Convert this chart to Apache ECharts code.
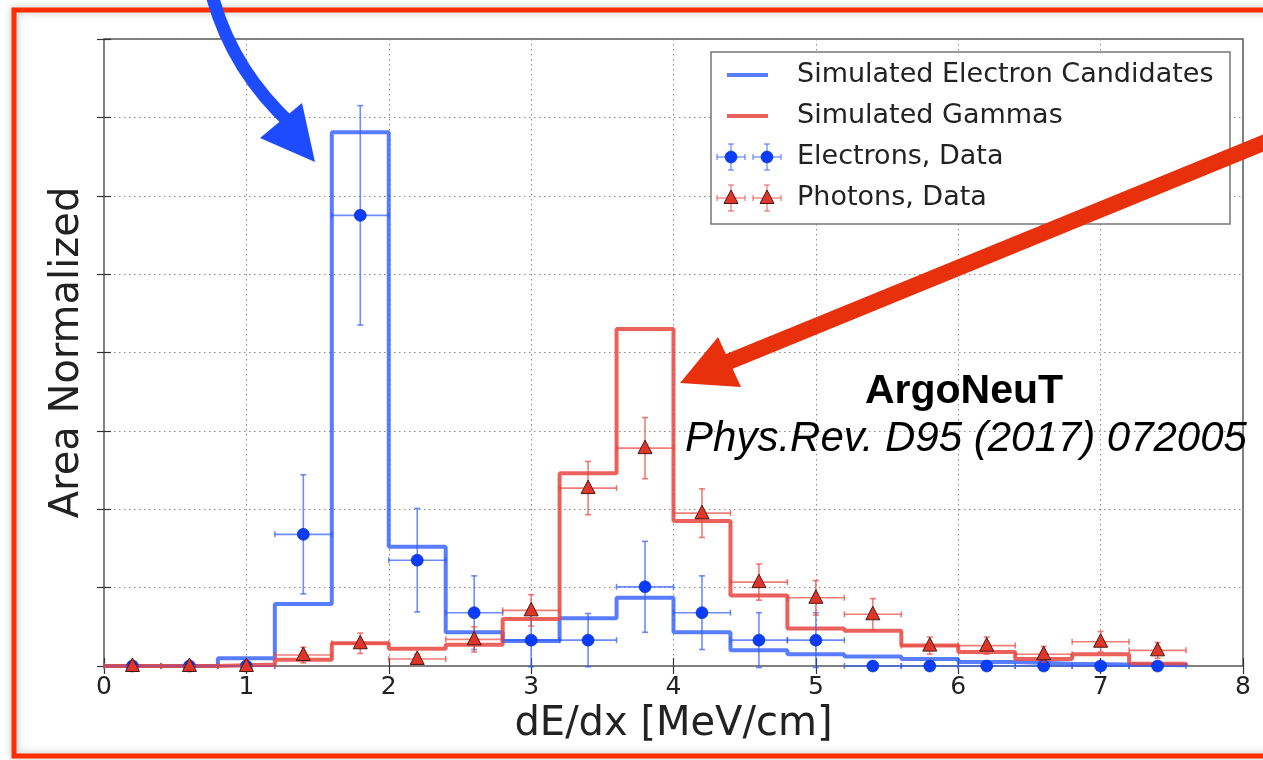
<!DOCTYPE html>
<html>
<head>
<meta charset="utf-8">
<title>dE/dx ArgoNeuT</title>
<script src="https://cdn.jsdelivr.net/npm/echarts@6/dist/echarts.min.js"></script>
<style>
  html, body { margin: 0; padding: 0; background: #ffffff; }
  #chart { width: 1263px; height: 760px; }
</style>
</head>
<body>
<div id="chart"></div>
<script>
// bin edges of the dE/dx histograms (MeV/cm)
const binEdges = [0, 0.4, 0.8, 1.2, 1.6, 2.0, 2.4, 2.8, 3.2, 3.6, 4.0, 4.4, 4.8, 5.2, 5.6, 6.0, 6.4, 6.8, 7.2, 7.6]
const binCenters = [0.2, 0.6, 1.0, 1.4, 1.8, 2.2, 2.6, 3.0, 3.4, 3.8, 4.2, 4.6, 5.0, 5.4, 5.8, 6.2, 6.6, 7.0, 7.4]
const binHalfWidth = 0.2

// simulated histograms (area normalized, arbitrary units)
const simElectrons = [0, 0, 0.10, 0.79, 6.81, 1.52, 0.43, 0.32, 0.61, 0.87, 0.43, 0.20, 0.15, 0.12, 0.09, 0.05, 0.03, 0.02, 0.01]
const simGammas = [0, 0, 0.02, 0.08, 0.29, 0.22, 0.27, 0.60, 2.46, 4.30, 1.85, 0.90, 0.48, 0.45, 0.26, 0.18, 0.09, 0.15, 0.03]

// data points with errors
const electronData = [0, 0, 0, 1.68, 5.75, 1.35, 0.68, 0.33, 0.33, 1.01, 0.68, 0.33, 0.33, 0, 0, 0, 0, 0, 0]
const electronErr = [0, 0, 0, 0.76, 1.40, 0.66, 0.47, 0.34, 0.34, 0.58, 0.47, 0.35, 0.35, 0, 0, 0, 0, 0, 0]
const photonData = [0, 0, 0, 0.14, 0.29, 0.09, 0.34, 0.71, 2.27, 2.78, 1.95, 1.07, 0.87, 0.66, 0.26, 0.26, 0.15, 0.31, 0.20]
const photonErr = [0, 0, 0, 0.10, 0.13, 0.06, 0.16, 0.20, 0.34, 0.39, 0.31, 0.23, 0.22, 0.20, 0.11, 0.11, 0.10, 0.13, 0.10]

const xTicks = [0, 1, 2, 3, 4, 5, 6, 7, 8]

const BLUE_LINE = '#2f5dff'
const RED_LINE = '#e8473f'
const BLUE_PT = '#0a3cff'
const RED_PT = '#e0352b'
const FONT = '"DejaVu Sans", sans-serif'

// histogram as a step outline: back to zero at both ends
function stepPoints(edges, values) {
  const pts = [[edges[0], 0]]
  values.forEach((v, i) => pts.push([edges[i], v]))
  pts.push([edges[edges.length - 1], values[values.length - 1]])
  pts.push([edges[edges.length - 1], 0])
  return pts
}

function errorSeries(name, values, errs, barColor, marker) {
  return {
    name: name,
    type: 'custom',
    silent: true,
    z: 5,
    encode: { x: 0, y: 1 },
    data: binCenters.map((x, i) => [x, values[i], binHalfWidth, errs[i]]),
    renderItem(params, api) {
      const x = api.value(0)
      const y = api.value(1)
      const xe = api.value(2)
      const ye = api.value(3)
      const p = api.coord([x, y])
      const l = api.coord([x - xe, y])
      const r = api.coord([x + xe, y])
      const t = api.coord([x, y + ye])
      const b = api.coord([x, y - ye])
      const bar = { stroke: barColor, lineWidth: 1.6, opacity: 0.7 }
      const cap = 3
      const children = [
        { type: 'line', shape: { x1: l[0], y1: l[1], x2: r[0], y2: r[1] }, style: bar },
        { type: 'line', shape: { x1: l[0], y1: l[1] - cap, x2: l[0], y2: l[1] + cap }, style: bar },
        { type: 'line', shape: { x1: r[0], y1: r[1] - cap, x2: r[0], y2: r[1] + cap }, style: bar }
      ]
      if (ye > 0) {
        children.push(
          { type: 'line', shape: { x1: t[0], y1: t[1], x2: b[0], y2: b[1] }, style: bar },
          { type: 'line', shape: { x1: t[0] - cap, y1: t[1], x2: t[0] + cap, y2: t[1] }, style: bar },
          { type: 'line', shape: { x1: b[0] - cap, y1: b[1], x2: b[0] + cap, y2: b[1] }, style: bar }
        )
      }
      children.push(marker(p[0], p[1]))
      return { type: 'group', children: children }
    }
  }
}

function circleMarker(cx, cy) {
  return { type: 'circle', shape: { cx: cx, cy: cy, r: 6 }, style: { fill: BLUE_PT, stroke: '#0028b0', lineWidth: 0.6 } }
}

function triangleMarker(cx, cy) {
  return {
    type: 'polygon',
    shape: { points: [[cx, cy - 8], [cx - 7, cy + 5.5], [cx + 7, cy + 5.5]] },
    style: { fill: RED_PT, stroke: '#4a1810', lineWidth: 1 }
  }
}

// legend drawn by hand so the handles match the matplotlib look
function legendErrorHandle(cx, cy, barColor, marker) {
  const bar = { stroke: barColor, lineWidth: 1.5, opacity: 0.6 }
  return [
    { type: 'line', shape: { x1: cx - 14, y1: cy, x2: cx + 14, y2: cy }, style: bar, z: 61 },
    { type: 'line', shape: { x1: cx, y1: cy - 13, x2: cx, y2: cy + 13 }, style: bar, z: 61 },
    { type: 'line', shape: { x1: cx - 3, y1: cy - 13, x2: cx + 3, y2: cy - 13 }, style: bar, z: 61 },
    { type: 'line', shape: { x1: cx - 3, y1: cy + 13, x2: cx + 3, y2: cy + 13 }, style: bar, z: 61 },
    { type: 'line', shape: { x1: cx - 14, y1: cy - 3, x2: cx - 14, y2: cy + 3 }, style: bar, z: 61 },
    { type: 'line', shape: { x1: cx + 14, y1: cy - 3, x2: cx + 14, y2: cy + 3 }, style: bar, z: 61 },
    Object.assign(marker(cx, cy), { z: 62 })
  ]
}

function legendText(y, text) {
  return {
    type: 'text', x: 797, y: y, z: 61,
    style: { text: text, fontFamily: FONT, fontSize: 27, fill: '#222', align: 'left', verticalAlign: 'middle' }
  }
}

const legendItems = [
  { type: 'rect', shape: { x: 711, y: 52, width: 519, height: 172 }, style: { fill: '#fff', stroke: '#777', lineWidth: 1.5 }, z: 60 },
  { type: 'line', shape: { x1: 727, y1: 75, x2: 768, y2: 75 }, style: { stroke: BLUE_LINE, lineWidth: 4, opacity: 0.8 }, z: 61 },
  { type: 'line', shape: { x1: 727, y1: 116, x2: 768, y2: 116 }, style: { stroke: RED_LINE, lineWidth: 4, opacity: 0.85 }, z: 61 },
  legendText(75, 'Simulated Electron Candidates'),
  legendText(116, 'Simulated Gammas'),
  legendText(157, 'Electrons, Data'),
  legendText(198, 'Photons, Data')
]
  .concat(legendErrorHandle(731, 157, BLUE_LINE, circleMarker))
  .concat(legendErrorHandle(767, 157, BLUE_LINE, circleMarker))
  .concat(legendErrorHandle(731, 198, RED_LINE, triangleMarker))
  .concat(legendErrorHandle(767, 198, RED_LINE, triangleMarker))

const annotations = [
  // slide frame
  {
    type: 'rect', z: 90,
    shape: { x: 14, y: 10, width: 1300, height: 746 },
    style: { fill: 'none', stroke: '#ff2d00', lineWidth: 5, shadowBlur: 8, shadowColor: 'rgba(0,0,0,0.25)' }
  },
  {
    type: 'text', x: 964, y: 392, z: 70,
    style: { text: 'ArgoNeuT', fontFamily: '"Liberation Sans", Arial, sans-serif', fontWeight: 'bold', fontSize: 41, fill: '#000', align: 'center', verticalAlign: 'middle' }
  },
  {
    type: 'text', x: 966, y: 439, z: 70,
    style: { text: 'Phys.Rev. D95 (2017) 072005', fontFamily: '"Liberation Sans", Arial, sans-serif', fontStyle: 'italic', fontSize: 42, fill: '#000', align: 'center', verticalAlign: 'middle' }
  },
  // blue arrow
  {
    type: 'bezierCurve', z: 95,
    shape: { x1: 212, y1: -5, cpx1: 232, cpy1: 70, x2: 292, y2: 125 },
    style: { fill: 'none', stroke: '#1f4bff', lineWidth: 13 }
  },
  {
    type: 'polygon', z: 95,
    shape: { points: [[302, 103], [260, 138], [315, 162]] },
    style: { fill: '#1f4bff' }
  },
  // red arrow
  {
    type: 'line', z: 95,
    shape: { x1: 1290, y1: 132, x2: 728, y2: 362 },
    style: { stroke: '#e8300c', lineWidth: 16 }
  },
  {
    type: 'polygon', z: 95,
    shape: { points: [[680, 383], [718, 337], [741, 387]] },
    style: { fill: '#e8300c' }
  }
]

const chart = echarts.init(document.getElementById('chart'))

const dotted = { color: '#888', width: 1, type: [1.5, 3.5] }
const tickStyle = { color: '#333', width: 1.2 }

chart.setOption({
  animation: false,
  backgroundColor: '#fff',
  grid: {
    left: 104, top: 39, width: 1139, height: 627,
    show: true, borderColor: '#555', borderWidth: 1.5, backgroundColor: 'transparent'
  },
  xAxis: [
    {
      type: 'value', min: 0, max: 8, interval: 1, position: 'bottom',
      axisLine: { show: false },
      axisTick: { inside: true, length: 8, lineStyle: tickStyle },
      axisLabel: {
        fontFamily: FONT, fontSize: 25, color: '#222', margin: 9,
        formatter: v => (xTicks.indexOf(v) >= 0 ? String(v) : '')
      },
      splitLine: { show: true, lineStyle: dotted },
      name: 'dE/dx [MeV/cm]', nameLocation: 'middle', nameGap: 31,
      nameTextStyle: { fontFamily: FONT, fontSize: 40, color: '#222', verticalAlign: 'top' }
    },
    {
      type: 'value', min: 0, max: 8, interval: 1, position: 'top',
      axisLine: { show: false },
      axisTick: { inside: true, length: 8, lineStyle: tickStyle },
      axisLabel: { show: false },
      splitLine: { show: false }
    }
  ],
  yAxis: [
    {
      type: 'value', min: 0, max: 8, interval: 1, position: 'left',
      axisLine: { show: false },
      axisTick: { inside: true, length: 7, lineStyle: tickStyle },
      axisLabel: { show: false },
      splitLine: { show: true, lineStyle: dotted },
      name: 'Area Normalized', nameLocation: 'middle', nameGap: 16,
      nameTextStyle: { fontFamily: FONT, fontSize: 40, color: '#222' }
    },
    {
      type: 'value', min: 0, max: 8, interval: 1, position: 'right',
      axisLine: { show: false },
      axisTick: { inside: true, length: 7, lineStyle: tickStyle },
      axisLabel: { show: false },
      splitLine: { show: false }
    }
  ],
  series: [
    {
      name: 'Simulated Electron Candidates', type: 'line', step: 'end', silent: true, z: 3,
      symbol: 'none', data: stepPoints(binEdges, simElectrons),
      lineStyle: { color: BLUE_LINE, width: 4, opacity: 0.8 }
    },
    {
      name: 'Simulated Gammas', type: 'line', step: 'end', silent: true, z: 3,
      symbol: 'none', data: stepPoints(binEdges, simGammas),
      lineStyle: { color: RED_LINE, width: 4, opacity: 0.85 }
    },
    errorSeries('Electrons, Data', electronData, electronErr, BLUE_LINE, circleMarker),
    errorSeries('Photons, Data', photonData, photonErr, RED_LINE, triangleMarker)
  ],
  graphic: { elements: legendItems.concat(annotations) }
})

window.addEventListener('resize', () => chart.resize())
</script>
</body>
</html>
